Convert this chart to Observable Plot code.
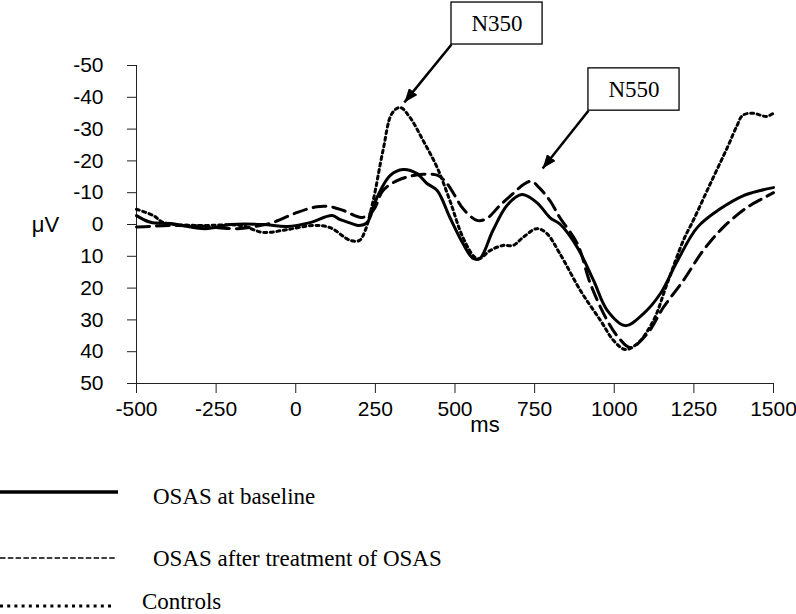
<!DOCTYPE html>
<html>
<head>
<meta charset="utf-8">
<script src="https://cdn.jsdelivr.net/npm/d3@7"></script>
<script src="https://cdn.jsdelivr.net/npm/@observablehq/plot@0.6"></script>
<style>
  html, body { margin: 0; padding: 0; background: #fff; }
  #chart { position: relative; width: 796px; height: 614px; overflow: hidden; background: #fff; }
  #chart svg { display: block; }
</style>
</head>
<body>
<div id="chart"></div>
<script>
// ---------- data ----------
const seriesNames = ["OSAS at baseline", "OSAS after treatment of OSAS", "Controls"];

const baselineMs = [-500,-456,-393,-284,-205,-102,-27,45,114,140,170,196,224,255,296,337,381,412,444,484,525,557,578,619,663,710,757,798,831,884,935,978,1035,1092,1145,1199,1261,1334,1406,1459,1500];
const baselineUv = [-2.8,-0.7,-0.3,1.3,0,0,0.6,-0.6,-2.8,-1.5,-0.5,0.3,-0.6,-8.5,-15.4,-17.3,-16,-12.9,-10.7,-2.2,6,10.7,10.7,1.9,-6,-9.4,-6.9,-2.2,0,7.2,17.6,27,31.8,28,21.7,11.3,0.9,-5,-9.1,-10.7,-11.6];

const treatedMs = [-500,-460,-400,-300,-183,-120,-70,5,67,108,150,208,243,274,318,360,400,444,470,500,525,569,600,641,682,715,740,765,798,829,884,925,978,1013,1050,1104,1154,1217,1279,1342,1416,1466,1500];
const treatedUv = [0.8,0.6,0.3,0.5,1.3,0.5,-0.7,-3.8,-5.6,-5.6,-4.4,-2.2,-4.4,-10.7,-13.8,-15.2,-15.8,-15.5,-13.5,-9,-5,-1.3,-1.9,-6,-9.7,-12.6,-13.6,-11.5,-7.5,-2.2,6,18.6,30.2,35.5,38.7,34.3,26.1,17.6,8.2,0.9,-5.3,-8.2,-10];

const controlsMs = [-500,-447,-415,-309,-174,-102,-27,55,108,171,200,218,243,274,302,328,359,400,444,484,525,563,578,610,650,682,713,757,788,829,894,957,998,1035,1073,1123,1166,1217,1249,1302,1355,1385,1403,1434,1478,1500];
const controlsUv = [-4.8,-2.8,-0.6,0.3,0.3,2.5,1.6,0.3,1,5,5,1.9,-7.5,-23.3,-34.9,-36.8,-33.6,-26.4,-17.9,-7.5,4.1,10.4,10.7,8.2,6.6,6.6,4.1,1.3,2.8,9.1,20.8,30.2,36.5,39.3,37.4,30.2,18.6,5,-1.5,-12.9,-24.2,-31,-34.3,-35,-34,-35];

const xTicks = [-500,-250,0,250,500,750,1000,1250,1500];
const yTicks = [-50,-40,-30,-20,-10,0,10,20,30,40,50];
const xLabel = "ms";
const yLabel = "μV";

// annotations (in data units: ms / μV)
const annLabels = ["N350", "N550"];
const annBoxMs1 = [489, 919];
const annBoxMs2 = [775, 1205];
const annBoxUv1 = [-69.8, -49.1];
const annBoxUv2 = [-56.6, -35.8];
const annArrowFromMs = [489, 919];
const annArrowFromUv = [-56.6, -35.8];
const annArrowToMs = [341, 775];
const annArrowToUv = [-38.4, -17.6];

// ---------- build tables ----------
const zip = (xs, ys) => xs.map((x, i) => ({ms: x, uv: ys[i]}));
const baseline = zip(baselineMs, baselineUv);
const treated = zip(treatedMs, treatedUv);
const controls = zip(controlsMs, controlsUv);
const annotations = annLabels.map((label, i) => ({
  label,
  x1: annBoxMs1[i], x2: annBoxMs2[i], y1: annBoxUv1[i], y2: annBoxUv2[i],
  ax1: annArrowFromMs[i], ay1: annArrowFromUv[i], ax2: annArrowToMs[i], ay2: annArrowToUv[i]
}));

const sans = "Arial, 'Liberation Sans', sans-serif";
const serif = "'Times New Roman', 'Liberation Serif', serif";

const plot = Plot.plot({
  width: 796,
  height: 440,
  marginLeft: 136,
  marginRight: 23,
  marginTop: 65,
  marginBottom: 57,
  style: {fontFamily: sans, fontSize: "21px", color: "#222", background: "#fff", overflow: "visible"},
  x: {domain: [-500, 1500], ticks: xTicks, tickFormat: d => String(d), tickSize: 10, tickPadding: 8, label: null, line: true},
  y: {domain: [-50, 50], reverse: true, ticks: yTicks, tickFormat: d => String(d), tickSize: 9, tickPadding: 24, label: null, line: true},
  marks: [
    Plot.line(controls, {x: "ms", y: "uv", stroke: "#000", strokeWidth: 3, strokeDasharray: "3,3.6", curve: "catmull-rom"}),
    Plot.line(treated, {x: "ms", y: "uv", stroke: "#000", strokeWidth: 3, strokeDasharray: "13,7", curve: "catmull-rom"}),
    Plot.line(baseline, {x: "ms", y: "uv", stroke: "#000", strokeWidth: 3, curve: "catmull-rom"}),
    Plot.link(annotations, {x1: "ax1", y1: "ay1", x2: "ax2", y2: "ay2", stroke: "#000", strokeWidth: 2.5}),
    Plot.rect(annotations, {x1: "x1", x2: "x2", y1: "y1", y2: "y2", fill: "#fff", stroke: "#000", strokeWidth: 1.3}),
    Plot.text(annotations, {x: d => (d.x1 + d.x2) / 2, y: d => (d.y1 + d.y2) / 2, text: "label", fontFamily: serif, fontSize: 23, fill: "#000"}),
    Plot.text([xLabel], {text: d => d, frameAnchor: "bottom", dx: 30, dy: 48, fontSize: 22, fill: "#000"}),
    Plot.text([yLabel], {text: d => d, y: () => 0, frameAnchor: "left", dx: -91, textAnchor: "middle", fontSize: 22, fill: "#000"})
  ]
});

// filled arrowheads on the annotation arrows (the links are the only marks with stroke-width 2.5)
const svgSel = d3.select(plot);
svgSel.append("defs").append("marker")
  .attr("id", "ahead")
  .attr("viewBox", "-14 -5.5 14 11")
  .attr("markerWidth", 14).attr("markerHeight", 11)
  .attr("markerUnits", "userSpaceOnUse")
  .attr("orient", "auto")
  .append("path").attr("d", "M-14,-5.5L0,0L-14,5.5Z").attr("fill", "#000");
svgSel.selectAll('[stroke-width="2.5"] path, path[stroke-width="2.5"]').attr("marker-end", "url(#ahead)");
svgSel.selectAll("g[aria-label='y-axis tick label'] text, g[aria-label='x-axis tick label'] text").attr("fill", "#000");

const chart = document.getElementById("chart");
chart.appendChild(plot);

// ---------- legend (below the plot) ----------
const legendStyles = [
  {width: 3.5, dash: null, lineY: 52, x2: 118, textX: 153, textY: 64},
  {width: 1.6, dash: "5.5,2.3", lineY: 118, x2: 117, textX: 153, textY: 126},
  {width: 3, dash: "3,4.2", lineY: 166, x2: 115, textX: 142, textY: 169}
];
const legend = d3.create("svg").attr("width", 796).attr("height", 174).style("display", "block");
seriesNames.forEach((name, i) => {
  const s = legendStyles[i];
  legend.append("line")
    .attr("x1", 0).attr("x2", s.x2).attr("y1", s.lineY).attr("y2", s.lineY)
    .attr("stroke", "#000").attr("stroke-width", s.width)
    .attr("stroke-dasharray", s.dash);
  legend.append("text")
    .attr("x", s.textX).attr("y", s.textY)
    .attr("font-family", serif).attr("font-size", 23).attr("fill", "#000")
    .text(name);
});
chart.appendChild(legend.node());
</script>
</body>
</html>
